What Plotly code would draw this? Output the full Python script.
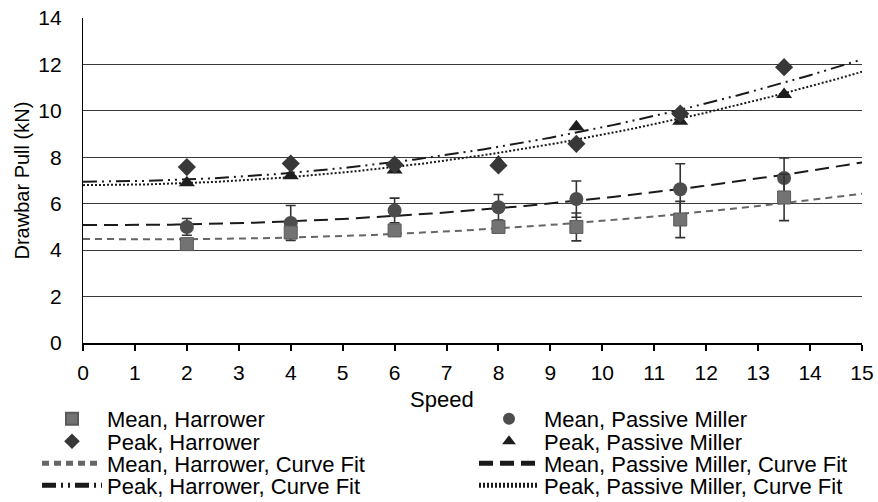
import numpy as np
import plotly.graph_objects as go

# ---- data ----
speed = [2, 4, 6, 8, 9.5, 11.5, 13.5]
mean_harrower = [4.26, 4.76, 4.85, 5.0, 5.0, 5.32, 6.27]
mean_harrower_err = [0.15, 0.25, 0.25, 0.2, 0.6, 0.78, 1.0]
mean_miller = [5.0, 5.17, 5.71, 5.85, 6.2, 6.62, 7.11]
mean_miller_err = [0.36, 0.75, 0.53, 0.55, 0.78, 1.1, 0.86]
peak_harrower = [7.58, 7.73, 7.68, 7.65, 8.58, 9.88, 11.88]
peak_miller = [6.9, 7.2, 7.45, 7.8, 9.32, 9.55, 10.7]

# quadratic curve-fit coefficients [c2, c1, c0]
fit_mean_harrower = [0.01047, -0.027, 4.48]
fit_mean_miller = [0.01274, -0.0114, 5.08]
fit_peak_harrower = [0.0234, 0.0, 6.95]
fit_peak_miller = [0.0217, 0.0, 6.8]

x_ticks = list(range(0, 16))
y_ticks = list(range(0, 15, 2))

fit_x = np.linspace(0, 15, 151)

FONT = "Liberation Sans, Arial, sans-serif"

# plot area in pixels
W, H = 878, 502
L, R, T, B = 83, 16, 18, 159
PW, PH = W - L - R, H - T - B


def px_x(p):
    return (p - L) / PW


def px_y(p):
    return (H - B - p) / PH


fig = go.Figure()

# curve fits (behind markers)
fig.add_trace(go.Scatter(x=fit_x, y=np.polyval(fit_mean_harrower, fit_x), mode="lines",
                         name="Mean, Harrower, Curve Fit", legend="legend3",
                         line=dict(color="#666666", width=2, dash="7px,5px")))
fig.add_trace(go.Scatter(x=fit_x, y=np.polyval(fit_peak_harrower, fit_x), mode="lines",
                         name="Peak, Harrower, Curve Fit", legend="legend4",
                         line=dict(color="#1a1a1a", width=2, dash="14px,5px,2px,5px,2px,5px")))
fig.add_trace(go.Scatter(x=fit_x, y=np.polyval(fit_mean_miller, fit_x), mode="lines",
                         name="Mean, Passive Miller, Curve Fit", legend="legend7",
                         line=dict(color="#1a1a1a", width=2, dash="14px,7px")))
fig.add_trace(go.Scatter(x=fit_x, y=np.polyval(fit_peak_miller, fit_x), mode="lines",
                         name="Peak, Passive Miller, Curve Fit", legend="legend8",
                         line=dict(color="#1a1a1a", width=2, dash="2px,2px")))

err_style = dict(type="data", visible=True, color="#333333", thickness=1.6, width=5)

fig.add_trace(go.Scatter(x=speed, y=mean_miller, mode="markers", name="Mean, Passive Miller",
                         legend="legend5",
                         error_y=dict(array=mean_miller_err, **err_style),
                         marker=dict(symbol="circle", size=14, color="#4d4d4d")))
fig.add_trace(go.Scatter(x=speed, y=mean_harrower, mode="markers", name="Mean, Harrower",
                         legend="legend",
                         error_y=dict(array=mean_harrower_err, **err_style),
                         marker=dict(symbol="square", size=13, color="#737373",
                                     line=dict(color="#5a5a5a", width=1))))
fig.add_trace(go.Scatter(x=speed, y=peak_miller, mode="markers", name="Peak, Passive Miller",
                         legend="legend6",
                         marker=dict(symbol="triangle-up", size=14, color="#1e1e1e")))
fig.add_trace(go.Scatter(x=speed, y=peak_harrower, mode="markers", name="Peak, Harrower",
                         legend="legend2",
                         marker=dict(symbol="diamond", size=14, color="#383838")))

# legends: one item each, laid out in two columns of four rows
row_y = [419, 441.5, 463.5, 485.5]
col_x = [37, 474]
legend_names = ["legend", "legend2", "legend3", "legend4",
                "legend5", "legend6", "legend7", "legend8"]
legend_layout = {}
for i, name in enumerate(legend_names):
    col, row = divmod(i, 4)
    legend_layout[name] = dict(
        x=px_x(col_x[col]), y=px_y(row_y[row]), xanchor="left", yanchor="middle",
        bgcolor="rgba(0,0,0,0)", borderwidth=0,
        font=dict(family=FONT, size=22, color="#000000"),
        itemsizing="constant", itemwidth=60,
    )

fig.update_layout(
    width=W, height=H,
    margin=dict(l=L, r=R, t=T, b=B, pad=0, autoexpand=False),
    paper_bgcolor="white", plot_bgcolor="white",
    font=dict(family=FONT, color="#000000"),
    showlegend=True,
    **legend_layout,
    xaxis=dict(range=[0, 15], tickvals=x_ticks, ticktext=[str(v) for v in x_ticks],
               showgrid=False, zeroline=False, showline=True, linecolor="#000000",
               linewidth=1.5, ticks="outside", ticklen=6, tickwidth=1.5, tickcolor="#000000",
               tickfont=dict(family=FONT, size=21, color="#000000"), ticklabelstandoff=4,
               automargin=False),
    yaxis=dict(range=[0, 14], tickvals=y_ticks, ticktext=[str(v) for v in y_ticks],
               showgrid=True, gridcolor="#3a3a3a", gridwidth=1.2, zeroline=False,
               showline=True, linecolor="#000000", linewidth=1.2, ticks="",
               tickfont=dict(family=FONT, size=21, color="#000000"), ticklabelstandoff=16,
               automargin=False),
    annotations=[
        dict(text="Speed", x=px_x(442), y=px_y(399), xref="paper", yref="paper",
             showarrow=False, font=dict(family=FONT, size=22, color="#000000"),
             xanchor="center", yanchor="middle"),
        dict(text="Drawbar Pull (kN)", x=px_x(21), y=0.5, xref="paper", yref="paper",
             showarrow=False, textangle=-90,
             font=dict(family=FONT, size=20, color="#000000"),
             xanchor="center", yanchor="middle"),
    ],
)

fig.write_html("out.html", config={"displayModeBar": False},
               post_script="document.body.style.margin='0';document.body.style.padding='0';")
